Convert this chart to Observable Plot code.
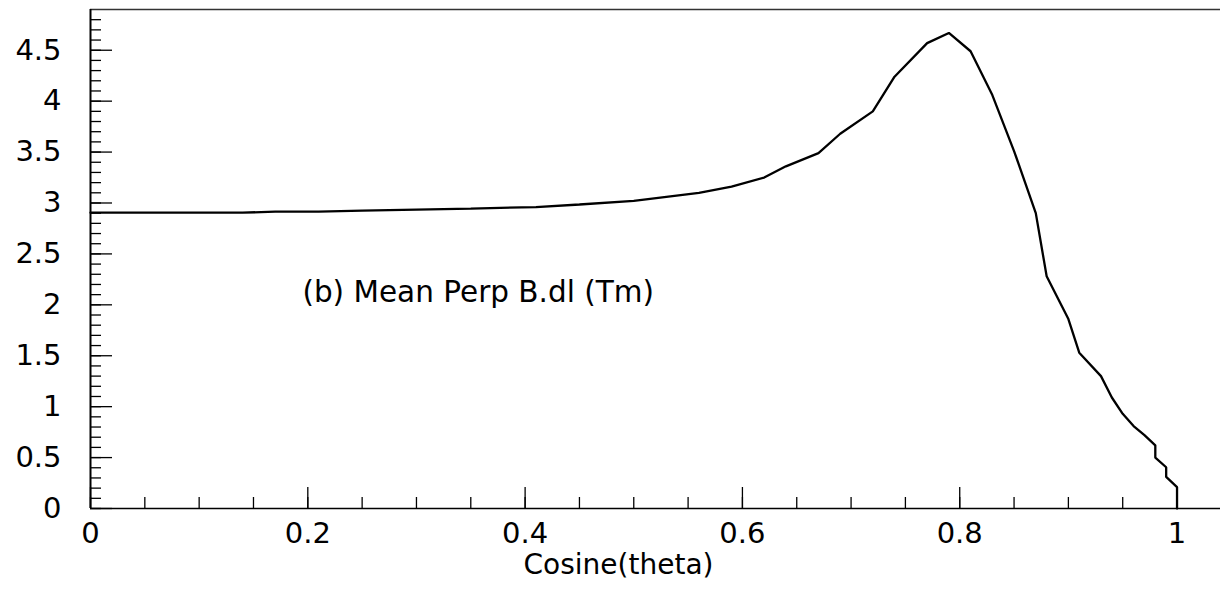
<!DOCTYPE html>
<html>
<head>
<meta charset="utf-8">
<script src="https://cdn.jsdelivr.net/npm/d3@7"></script>
<script src="https://cdn.jsdelivr.net/npm/@observablehq/plot@0.6"></script>
<style>
  html, body { margin: 0; padding: 0; background: #fff; }
  #chart svg { display: block; }
</style>
</head>
<body>
<div id="chart"></div>
<script>
const cosTheta = [0, 0.14, 0.17, 0.21, 0.25, 0.30, 0.35, 0.41, 0.45, 0.50, 0.53, 0.56, 0.59, 0.62, 0.64, 0.67, 0.69, 0.72, 0.74, 0.77, 0.79, 0.81, 0.83, 0.85, 0.87, 0.88, 0.90, 0.91, 0.93, 0.94, 0.95, 0.96, 0.97, 0.98, 0.98, 0.99, 0.99, 1.00, 1.00];
const meanPerpBdl = [2.905, 2.905, 2.915, 2.915, 2.925, 2.935, 2.945, 2.96, 2.985, 3.02, 3.06, 3.10, 3.16, 3.25, 3.36, 3.49, 3.68, 3.90, 4.24, 4.57, 4.67, 4.49, 4.06, 3.51, 2.90, 2.28, 1.86, 1.53, 1.30, 1.09, 0.93, 0.81, 0.72, 0.62, 0.50, 0.405, 0.31, 0.21, 0];

const xDomain = [0, 1.04];
const yDomain = [0, 4.9];
const xMajorTicks = [0, 0.2, 0.4, 0.6, 0.8, 1.0];
const xTickLabels = ["0", "0.2", "0.4", "0.6", "0.8", "1"];
const xMinorTicks = d3.range(0, 21).map(i => i * 0.05);
const yMajorTicks = [0, 0.5, 1, 1.5, 2, 2.5, 3, 3.5, 4, 4.5];
const yTickLabels = ["0", "0.5", "1", "1.5", "2", "2.5", "3", "3.5", "4", "4.5"];
const yMinorTicks = d3.range(0, 49).map(i => i * 0.1);
const xTitle = "Cosine(theta)";
const annotation = [{x: 0.195, y: 2.12, label: "(b) Mean Perp B.dl (Tm)"}];
const titlePos = [{x: 0.486, label: xTitle}];

const data = cosTheta.map((c, i) => ({c, v: meanPerpBdl[i]}));
const fontFamily = "'DejaVu Sans', sans-serif";

const chart = Plot.plot({
  width: 1220,
  height: 591,
  marginLeft: 90,
  marginRight: 0,
  marginTop: 9,
  marginBottom: 83,
  style: {fontFamily, background: "#fff", color: "#000", overflow: "visible"},
  x: {domain: xDomain},
  y: {domain: yDomain},
  marks: [
    // minor ticks
    Plot.axisY({ticks: yMinorTicks, tickSize: -11, fill: "none", stroke: "#000", strokeWidth: 1.3}),
    Plot.axisX({ticks: xMinorTicks, tickSize: -11, fill: "none", stroke: "#000", strokeWidth: 1.3}),
    // major ticks
    Plot.axisY({ticks: yMajorTicks, tickSize: -22, fill: "none", stroke: "#000", strokeWidth: 1.3}),
    Plot.axisX({ticks: xMajorTicks, tickSize: -21, fill: "none", stroke: "#000", strokeWidth: 1.3}),
    // tick labels
    Plot.axisY({ticks: yMajorTicks, tickSize: 0, tickPadding: 29, fontSize: 29, label: null,
      tickFormat: d => yTickLabels[yMajorTicks.indexOf(d)]}),
    Plot.axisX({ticks: xMajorTicks, tickSize: 0, tickPadding: 14, fontSize: 29, label: null,
      tickFormat: d => xTickLabels[xMajorTicks.indexOf(d)]}),
    // frame
    Plot.ruleY([yDomain[1]], {stroke: "#333", strokeWidth: 1.6}),
    Plot.ruleY([0], {stroke: "#000", strokeWidth: 1.6}),
    Plot.ruleX([0], {stroke: "#000", strokeWidth: 2}),
    // curve
    Plot.line(data, {x: "c", y: "v", stroke: "#000", strokeWidth: 2.3, strokeLinejoin: "miter"}),
    // texts
    Plot.text(annotation, {x: "x", y: "y", text: "label", textAnchor: "start", lineAnchor: "middle", fontSize: 29.5, fill: "#000"}),
    Plot.text(titlePos, {x: "x", frameAnchor: "bottom", text: "label", lineAnchor: "top", dy: 46, fontSize: 28, fill: "#000"})
  ]
});
document.getElementById("chart").appendChild(chart);
</script>
</body>
</html>
